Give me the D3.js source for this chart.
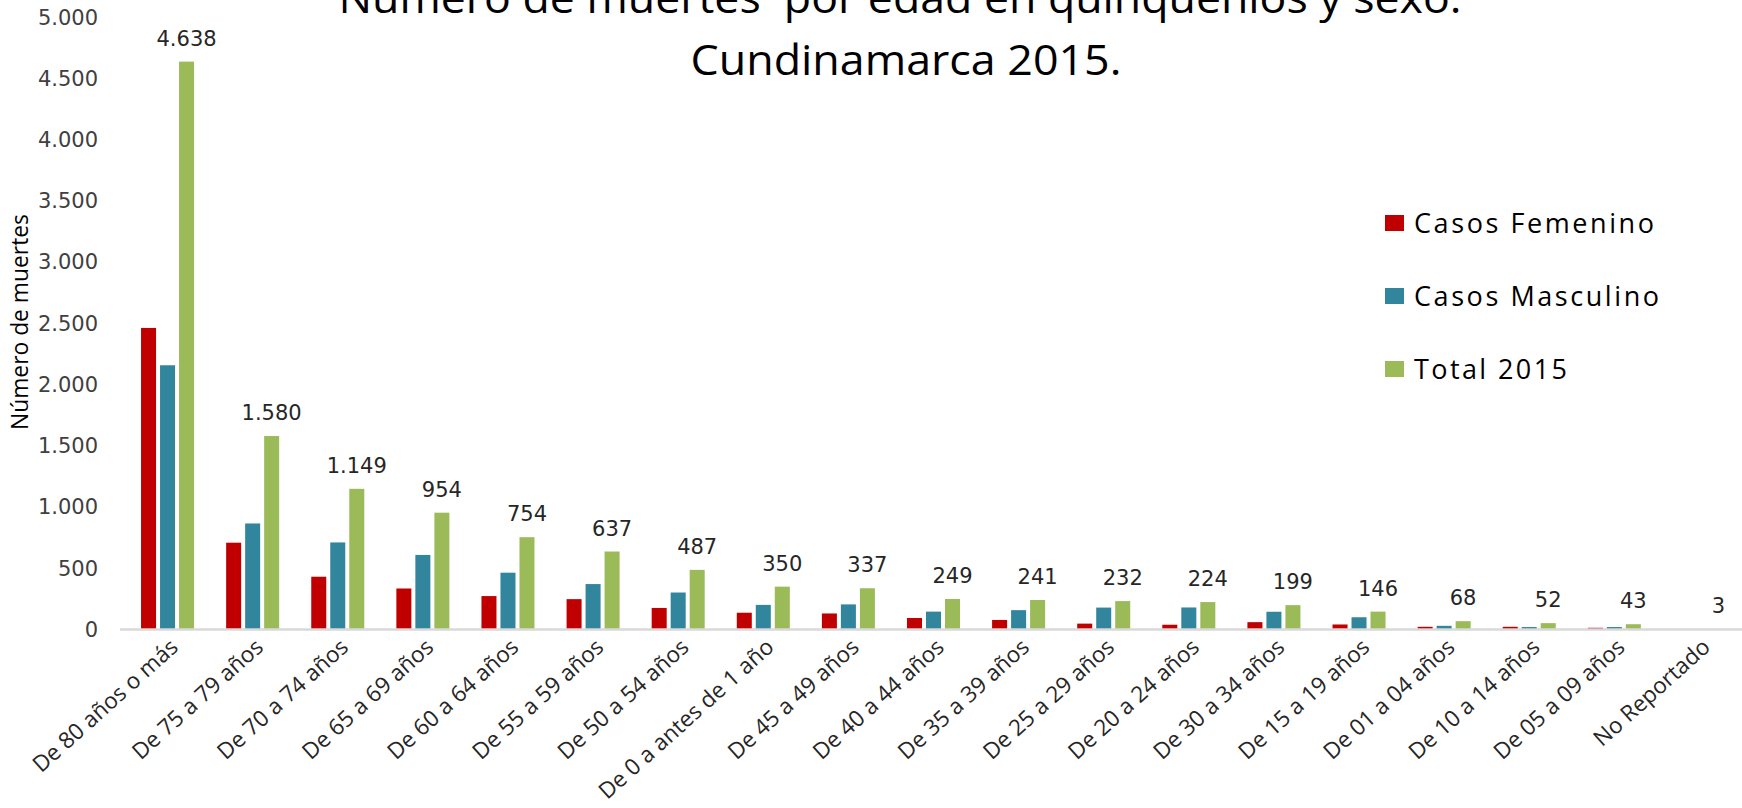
<!DOCTYPE html>
<html>
<head>
<meta charset="utf-8">
<script src="https://cdn.jsdelivr.net/npm/d3@7"></script>
<style>
  body { margin: 0; background: #fff; }
  svg { display: block; }
</style>
</head>
<body>
<div id="chart"></div>
<script>
var categorias = ["De 80 años o más", "De 75 a 79 años", "De 70 a 74 años", "De 65 a 69 años",
  "De 60 a 64 años", "De 55 a 59 años", "De 50 a 54 años", "De 0 a antes de 1 año",
  "De 45 a 49 años", "De 40 a 44 años", "De 35 a 39 años", "De 25 a 29 años",
  "De 20 a 24 años", "De 30 a 34 años", "De 15 a 19 años", "De 01 a 04 años",
  "De 10 a 14 años", "De 05 a 09 años", "No Reportado"];
var femenino  = [2463, 709, 431, 335, 273, 248, 176, 137, 131, 94, 78, 48, 39, 60, 41, 22, 22, 14, 1];
var masculino = [2158, 866, 711, 609, 464, 371, 302, 201, 205, 146, 158, 179, 180, 145, 100, 30, 20, 20, 2];
var total2015 = [4638, 1580, 1149, 954, 754, 637, 487, 350, 337, 249, 241, 232, 224, 199, 146, 68, 52, 43, 3];
var series = ["Casos Femenino", "Casos Masculino", "Total 2015"];
var colores = ["#C00000", "#31859C", "#9BBB59"];
var yTicks = [0, 500, 1000, 1500, 2000, 2500, 3000, 3500, 4000, 4500, 5000];

var W = 1742, H = 808;
var fmt = d3.formatLocale({decimal: ",", thousands: ".", grouping: [3], currency: ["$", ""]}).format(",d");

var svg = d3.select("#chart").append("svg").attr("width", W).attr("height", H);

var x0 = d3.scaleBand().domain(categorias).range([125, 1742]).paddingInner(0.377).paddingOuter(0.1885);
var x1 = d3.scaleBand().domain(series).range([0, x0.bandwidth()]).paddingInner(0.21);
var y = d3.scaleLinear().domain([0, 5000]).range([629.5, 17.3]);
var color = d3.scaleOrdinal().domain(series).range(colores);

var filas = categorias.map(function(c, i) {
  return {cat: c, vals: [femenino[i], masculino[i], total2015[i]]};
});

// eje y (solo etiquetas)
var yAxis = svg.append("g")
  .attr("transform", "translate(100,0)")
  .call(d3.axisLeft(y).tickValues(yTicks).tickFormat(fmt).tickSize(0).tickPadding(2));
yAxis.select(".domain").remove();
yAxis.selectAll("text")
  .attr("font-family", "DejaVu Sans")
  .attr("font-size", 21)
  .attr("fill", "#404040");

// barras
var grupos = svg.append("g").selectAll("g")
  .data(filas)
  .enter().append("g")
  .attr("transform", function(d) { return "translate(" + x0(d.cat) + ",0)"; });

grupos.selectAll("rect")
  .data(function(d) { return d.vals.map(function(v, j) { return {s: series[j], v: v}; }); })
  .enter().append("rect")
  .attr("x", function(d) { return x1(d.s); })
  .attr("y", function(d) { return y(d.v); })
  .attr("width", x1.bandwidth())
  .attr("height", function(d) { return y(0) - y(d.v); })
  .attr("fill", function(d) { return color(d.s); });

// etiquetas de total
grupos.append("text")
  .attr("x", x1("Total 2015") + x1.bandwidth() / 2)
  .attr("y", function(d) { return y(d.vals[2]) - 16; })
  .attr("text-anchor", "middle")
  .attr("font-family", "DejaVu Sans")
  .attr("font-size", 21)
  .attr("fill", "#262626")
  .text(function(d) { return fmt(d.vals[2]); });

// eje x
var xAxis = svg.append("g")
  .attr("transform", "translate(0," + y(0) + ")")
  .call(d3.axisBottom(x0).tickSize(0).tickFormat(""));
xAxis.select(".domain")
  .attr("stroke", "#d9d9d9")
  .attr("stroke-width", 2.5)
  .attr("d", "M120,0H1742");

svg.append("g").selectAll("text")
  .data(categorias)
  .enter().append("text")
  .attr("transform", function(d) {
    return "translate(" + (x0(d) + x0.bandwidth() / 2 + 12) + ",649) rotate(-42)";
  })
  .attr("text-anchor", "end")
  .attr("font-family", "Open Sans")
  .attr("font-size", 22.5)
  .attr("fill", "#262626")
  .text(function(d) { return d; });

// titulo eje y
svg.append("text")
  .attr("transform", "translate(28,322) rotate(-90)")
  .attr("text-anchor", "middle")
  .attr("font-family", "Open Sans")
  .attr("font-size", 24)
  .attr("textLength", 216)
  .attr("lengthAdjust", "spacingAndGlyphs")
  .attr("fill", "#000")
  .text("Número de muertes");

// titulo
svg.append("text")
  .attr("x", 900).attr("y", 13)
  .attr("text-anchor", "middle")
  .attr("font-family", "Open Sans")
  .attr("font-size", 42)
  .attr("textLength", 1123)
  .attr("lengthAdjust", "spacingAndGlyphs")
  .style("white-space", "pre")
  .attr("fill", "#000")
  .text("Número de muertes  por edad en quinquenios y sexo.");
svg.append("text")
  .attr("x", 906).attr("y", 75)
  .attr("text-anchor", "middle")
  .attr("font-family", "Open Sans")
  .attr("font-size", 42)
  .attr("textLength", 431)
  .attr("lengthAdjust", "spacingAndGlyphs")
  .attr("fill", "#000")
  .text("Cundinamarca 2015.");

// leyenda
var anchos = [240, 245, 153];
var leyenda = svg.append("g").selectAll("g")
  .data(series)
  .enter().append("g")
  .attr("transform", function(d, i) { return "translate(1385," + (215 + i * 73) + ")"; });
leyenda.append("rect")
  .attr("width", 19).attr("height", 16)
  .attr("fill", function(d) { return color(d); });
leyenda.append("text")
  .attr("x", 29).attr("y", 18)
  .attr("font-family", "Open Sans")
  .attr("font-size", 27)
  .attr("textLength", function(d, i) { return anchos[i]; })
  .attr("lengthAdjust", "spacing")
  .attr("fill", "#000")
  .text(function(d) { return d; });
</script>
</body>
</html>
